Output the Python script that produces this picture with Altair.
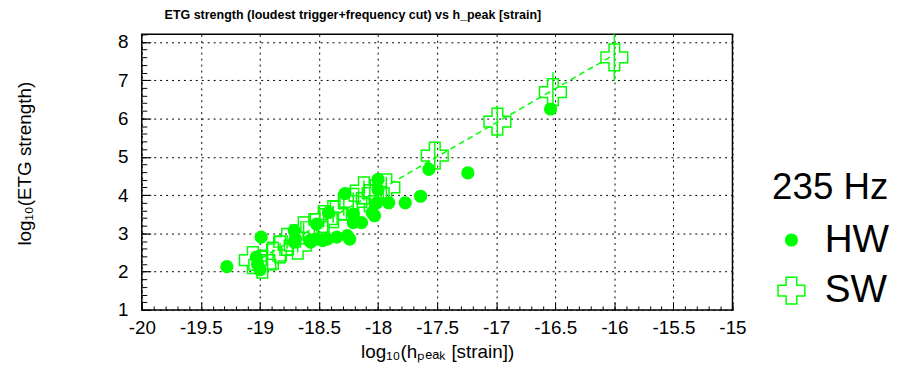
import altair as alt
import pandas as pd

# HW (filled circles)
hw_x = [-19.28, -18.99, -19.03, -19.02, -19.00, -18.71, -18.71, -18.70, -18.58, -18.57,
        -18.52, -18.53, -18.47, -18.43, -18.42, -18.35, -18.26, -18.24, -18.28, -18.21,
        -18.21, -18.14, -18.05, -18.00, -18.00, -18.01, -18.03, -17.91, -17.77, -17.64,
        -17.57, -17.24, -16.54]
hw_y = [2.13, 2.90, 2.38, 2.20, 2.05, 3.07, 2.77, 2.85, 2.81, 2.77,
        3.24, 2.85, 2.81, 2.85, 3.54, 2.90, 2.94, 2.85, 4.04, 3.50,
        3.28, 3.28, 3.54, 4.41, 4.15, 3.80, 3.46, 3.80, 3.80, 3.97,
        4.67, 4.58, 6.25]

# SW (open crosses) with error bars
sw_x = [-19.06, -18.98, -18.89, -18.83, -18.77, -18.68, -18.63, -18.54, -18.46, -18.38,
        -18.29, -18.21, -18.12, -18.07, -18.02, -17.93, -17.52, -16.99, -16.52, -16.00]
sw_y = [2.30, 2.18, 2.42, 2.58, 2.78, 2.68, 3.08, 3.16, 3.37, 3.50,
        3.70, 3.82, 4.12, 3.92, 4.05, 4.20, 5.03, 5.92, 6.69, 7.60]
sw_err = [0.15, 0.15, 0.16, 0.17, 0.18, 0.18, 0.20, 0.20, 0.22, 0.22,
          0.24, 0.25, 0.26, 0.26, 0.27, 0.28, 0.34, 0.42, 0.52, 0.62]

series_names = ["HW", "SW"]
legend_title = "235 Hz"
title_text = "ETG strength (loudest trigger+frequency cut) vs h_peak [strain]"
x_title = "log\u2081\u2080(h\u209a\u2091\u2090\u2096 [strain])"
y_title = "log\u2081\u2080(ETG strength)"

x_major = [-20 + 0.5 * i for i in range(11)]
x_minor = [round(-20 + 0.1 * i, 1) for i in range(51)]
y_major = [1, 2, 3, 4, 5, 6, 7, 8]
y_minor = [round(1 + 0.2 * i, 1) for i in range(37)]

W, H = 596, 278
GREEN = "#00ff00"
FONT = "Liberation Sans"

pts = pd.DataFrame({
    "x": hw_x + sw_x,
    "y": hw_y + sw_y,
    "series": ["HW"] * len(hw_x) + ["SW"] * len(sw_x),
})
sw = pd.DataFrame({"x": sw_x, "y": sw_y, "err": sw_err})
sw["lo"] = sw["y"] - sw["err"]
sw["hi"] = sw["y"] + sw["err"]

xs = alt.Scale(domain=[-20, -15], nice=False, zero=False)
ys = alt.Scale(domain=[1, 8.2], nice=False, zero=False)

main_x_axis = alt.Axis(values=x_major, labelExpr="toString(datum.value)", tickSize=0,
                       domain=False, grid=True, gridDash=[2, 4], gridColor="#000000",
                       gridWidth=1, labelFontSize=19, labelFont=FONT, labelColor="black",
                       labelPadding=9, labelFlush=False, labelOverlap=False,
                       title=x_title, titleFont=FONT, titleFontSize=19,
                       titleFontWeight="normal", titleColor="black", titleY=48,
                       titleBaseline="alphabetic")
main_y_axis = alt.Axis(values=y_major, tickSize=0, domain=False, grid=True,
                       gridDash=[2, 4], gridColor="#000000", gridWidth=1,
                       labelFontSize=19, labelFont=FONT, labelColor="black",
                       labelPadding=14, labelFlush=False, labelOverlap=False,
                       title=y_title, titleFont=FONT, titleFontSize=19,
                       titleFontWeight="normal", titleColor="black", titleX=-108,
                       titleY=130)

fit = alt.Chart(sw).transform_regression("x", "y").mark_line(
    color=GREEN, strokeDash=[6, 4], strokeWidth=1.5, clip=True
).encode(x=alt.X("x:Q", scale=xs, axis=main_x_axis), y=alt.Y("y:Q", scale=ys, axis=main_y_axis))

errs = alt.Chart(sw).mark_rule(color=GREEN, strokeWidth=1.5, clip=True).encode(
    x=alt.X("x:Q", scale=xs, axis=None), y=alt.Y("lo:Q", scale=ys, axis=None), y2="hi:Q")

points = alt.Chart(pts).mark_point(strokeWidth=1.5, opacity=1, clip=True).encode(
    x=alt.X("x:Q", scale=xs, axis=None),
    y=alt.Y("y:Q", scale=ys, axis=None),
    shape=alt.Shape("series:N", scale=alt.Scale(domain=series_names, range=["circle", "cross"]), title=legend_title),
    fill=alt.Fill("series:N", scale=alt.Scale(domain=series_names, range=[GREEN, "transparent"]), title=legend_title),
    stroke=alt.Stroke("series:N", scale=alt.Scale(domain=series_names, range=[GREEN, GREEN]), title=legend_title),
    size=alt.Size("series:N", scale=alt.Scale(domain=series_names, range=[140, 729]), title=legend_title),
)

def tick_layer(xvals, yvals, xsize, ysize):
    xa = alt.Axis(orient="top", offset=-H, values=xvals, labels=False, domain=False,
                  grid=False, tickSize=xsize, tickColor="black", tickWidth=1, title=None)
    ya = alt.Axis(orient="right", offset=-W, values=yvals, labels=False, domain=False,
                  grid=False, tickSize=ysize, tickColor="black", tickWidth=1, title=None)
    return alt.Chart(pts).mark_point(opacity=0).encode(
        x=alt.X("x:Q", scale=xs, axis=xa), y=alt.Y("y:Q", scale=ys, axis=ya))

t1 = tick_layer(x_major, y_major, 8, 9)
t2 = tick_layer(x_minor, y_minor, 4, 5)

chart = alt.layer(fit, errs, points, t1, t2).resolve_axis(
    x="independent", y="independent"
).properties(
    width=W, height=H,
    autosize="none",
    padding={"left": 135, "top": 25, "right": 165, "bottom": 53},
    title=alt.TitleParams(title_text, font=FONT, fontSize=12.6, fontWeight="bold",
                          color="black", anchor="start", frame="group", dx=23, offset=12),
).configure_view(stroke="black", strokeWidth=1.5).configure_legend(
    orient="none", legendX=636, legendY=137, titleFont=FONT, titleFontSize=37,
    titleFontWeight="normal", titleColor="black", labelFont=FONT, labelFontSize=39,
    labelColor="black", symbolStrokeWidth=1.5, titlePadding=14, rowPadding=11,
    labelOffset=14, padding=0
)

chart.save("out.html", embed_options={"renderer": "svg", "actions": False})
